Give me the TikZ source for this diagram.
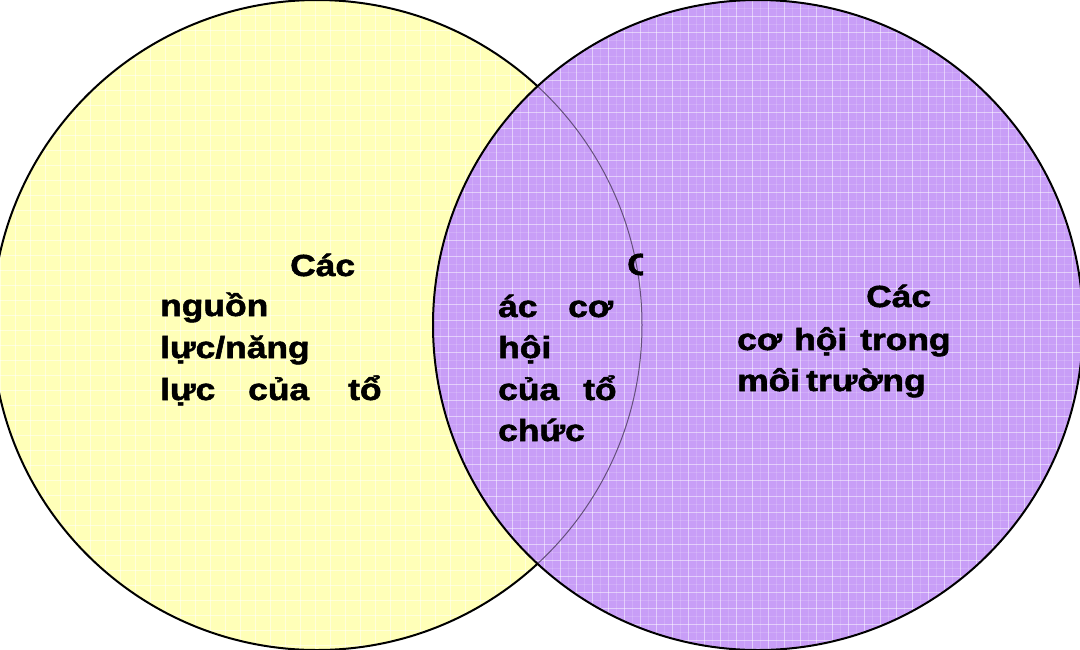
\documentclass[tikz,border=0pt]{standalone}
\usepackage{fontspec}
\setmainfont{Liberation Sans}
\newfontfamily\heavy{Liberation Sans Bold}[FakeBold=1.6]
\definecolor{ylw}{HTML}{FFFFB8}
\definecolor{prp}{HTML}{C89EF7}
\newcommand\sx[1]{\scalebox{1.16}[1]{#1}}
\tikzset{
  lbl/.style={anchor=base west, inner sep=0pt, font=\fontsize{30.5}{34}\selectfont\heavy},
  ring/.style={draw=black, line width=2pt},
  gmaj/.style={white, line width=1pt, opacity=0.5},
  gmin/.style={white, line width=0.4pt, opacity=0.15},
  gyl/.style={white, line width=0.6pt, opacity=0.5},
}
\begin{document}
\begin{tikzpicture}[x=1pt,y=-1pt]
\useasboundingbox (0,0) rectangle (1080,649);
\fill[white] (0,0) rectangle (1080,649);
\coordinate (cl) at (317,325);
\coordinate (cr) at (758,325);
% left circle
\fill[ylw] (cl) circle[radius=325pt];
\begin{scope}
  \clip (cl) circle[radius=325pt];
  \foreach \i in {0,15,...,1080} \draw[gyl] (\i,0) -- (\i,649);
  \foreach \j in {0,15,...,649} \draw[gyl] (0,\j) -- (1080,\j);
\end{scope}
\draw[ring] (cl) circle[radius=325pt];
% right circle
\fill[prp] (cr) circle[radius=325pt];
\begin{scope}
  \clip (cr) circle[radius=325pt];
  \foreach \i in {8,24,...,1080} \draw[gmin] (\i,0) -- (\i,649);
  \foreach \j in {8,24,...,649} \draw[gmin] (0,\j) -- (1080,\j);
  \foreach \i in {0,16,...,1080} \draw[gmaj] (\i,0) -- (\i,649);
  \foreach \j in {0,16,...,649} \draw[gmaj] (0,\j) -- (1080,\j);
  \draw[black!50!prp, line width=1pt] (cl) circle[radius=325pt];
\end{scope}
\draw[ring] (cr) circle[radius=325pt];
% left text
\node[lbl] (a1) at (290,276) {\sx{Các}};
\node[lbl] (a2) at (160,316) {\sx{nguồn}};
\node[lbl] (a3) at (160,358) {\sx{lực/năng}};
\node[lbl] (a4) at (160,400) {\sx{lực}};
\node[lbl] (a5) at (248,400) {\sx{của}};
\node[lbl] (a6) at (348,400) {\sx{tổ}};
% middle text
\begin{scope}
  \clip (600,240) rectangle (643,290);
  \node[lbl] (b0) at (627,275) {\sx{C}};
\end{scope}
\node[lbl] (b1) at (498,317) {\sx{ác}};
\node[lbl] (b2) at (568,317) {\sx{cơ}};
\node[lbl] (b3) at (498,358) {\sx{hội}};
\node[lbl] (b4) at (498,400) {\sx{của}};
\node[lbl] (b5) at (583,400) {\sx{tổ}};
\node[lbl] (b6) at (498,441) {\sx{chức}};
% right text
\node[lbl] (c1) at (866,307) {\sx{Các}};
\node[lbl] (c2) at (737,350) {\sx{cơ}};
\node[lbl] (c3) at (794,350) {\sx{hội}};
\node[lbl] (c4) at (860,350) {\sx{trong}};
\node[lbl] (c5) at (737,391) {\sx{môi}};
\node[lbl] (c6) at (806,391) {\sx{trường}};
\end{tikzpicture}
\end{document}
